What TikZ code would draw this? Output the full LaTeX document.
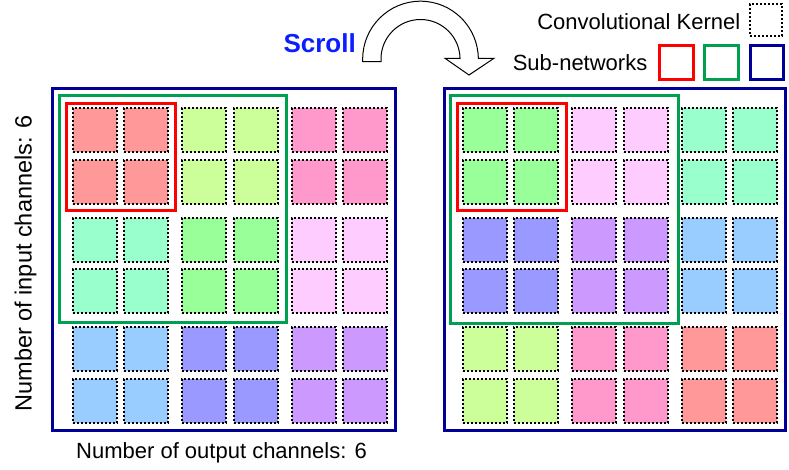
\documentclass[tikz,border=0pt]{standalone}
\usepackage{fontspec}
\setmainfont{Liberation Sans}
\definecolor{csalmon}{HTML}{FF9999}
\definecolor{cyg}{HTML}{CCFF99}
\definecolor{cpink}{HTML}{FF99CC}
\definecolor{caqua}{HTML}{99FFCC}
\definecolor{cgreen}{HTML}{99FF99}
\definecolor{clpink}{HTML}{FFCCFF}
\definecolor{clblue}{HTML}{99CCFF}
\definecolor{cperi}{HTML}{9999FF}
\definecolor{cpurple}{HTML}{CC99FF}
\definecolor{fred}{HTML}{FF0000}
\definecolor{fgreen}{HTML}{00A050}
\definecolor{fblue}{HTML}{000099}
\definecolor{scrollblue}{HTML}{0A1EFF}
\colorlet{lc11}{csalmon}\colorlet{lc12}{cyg}\colorlet{lc13}{cpink}
\colorlet{lc21}{caqua}\colorlet{lc22}{cgreen}\colorlet{lc23}{clpink}
\colorlet{lc31}{clblue}\colorlet{lc32}{cperi}\colorlet{lc33}{cpurple}
\colorlet{rc11}{cgreen}\colorlet{rc12}{clpink}\colorlet{rc13}{caqua}
\colorlet{rc21}{cperi}\colorlet{rc22}{cpurple}\colorlet{rc23}{clblue}
\colorlet{rc31}{cyg}\colorlet{rc32}{cpink}\colorlet{rc33}{csalmon}
\begin{document}
\begin{tikzpicture}[x=1pt,y=-1pt,
  kernel/.style={draw=black, line width=2pt, dash pattern=on 2pt off 2pt,
    minimum size=44pt, inner sep=0pt, outer sep=0pt},
  subnet/.style={line width=3pt},
  lbl/.style={inner sep=0pt, font=\fontsize{22}{26}\selectfont}]
\useasboundingbox (0,0) rectangle (789,470);
% kernels
\foreach \r/\y in {1/107.3,2/159,3/216.7,4/268.3,5/326,6/377.7} {
  \foreach \c/\x in {1/71.7,2/123,3/181.3,4/232.7,5/290.7,6/342} {
    \pgfmathtruncatemacro\pr{(\r+1)/2}
    \pgfmathtruncatemacro\pc{(\c+1)/2}
    \node[kernel, fill=lc\pr\pc] (L\r\c) at (\x+23,\y+23) {};
    \node[kernel, fill=rc\pr\pc] (R\r\c) at (\x+413,\y+23) {};
  }
}
% sub-network frames, left
\draw[subnet, fblue] (52,88.3) rectangle (395,430.7);
\draw[subnet, fgreen] (59,95.7) rectangle (286.7,322);
\draw[subnet, fred] (66.3,103.7) rectangle (175,211);
% sub-network frames, right
\draw[subnet, fblue] (444,88.3) rectangle (785.5,430);
\draw[subnet, fgreen] (450.7,96) rectangle (678,323.3);
\draw[subnet, fred] (457.7,103.7) rectangle (566,211);
% legend
\node[lbl, anchor=base east] (kt) at (740.5,29.5) {Convolutional Kernel};
\node[kernel, minimum size=32pt] (kk) at (766,20) {};
\node[lbl, anchor=base east] (st) at (647.5,70.3) {Sub-networks};
\node[subnet, draw=fred, minimum size=33.7pt, inner sep=0pt] (sr) at (676.7,62.3) {};
\node[subnet, draw=fgreen, minimum size=33.7pt, inner sep=0pt] (sg) at (721.7,62.3) {};
\node[subnet, draw=fblue, minimum size=33.7pt, inner sep=0pt] (sb) at (767,62.3) {};
% scroll
\node[inner sep=0pt, anchor=base west, text=scrollblue,
  font=\fontsize{26}{30}\selectfont\bfseries] (scroll) at (283.3,52.3) {Scroll};
\draw[line width=1pt, fill=white, line join=miter]
  (362.7,61.7) -- (362.7,59) arc[start angle=180, end angle=360, radius=57.8]
  -- (478.3,58.3) -- (494,58.3) -- (469,75) -- (445,58.3) -- (460,58.3) -- (460,59)
  arc[start angle=360, end angle=180, radius=39.5] -- (381,61.7) -- cycle;
% axis labels
\node[lbl, anchor=base west] (xl) at (76,458.3) {Number of output channels: 6};
\node[inner sep=0pt, anchor=base west, rotate=90, font=\fontsize{23.5}{28}\selectfont]
  (yl) at (31.7,411.7) {Number of input channels: 6};
\end{tikzpicture}
\end{document}
